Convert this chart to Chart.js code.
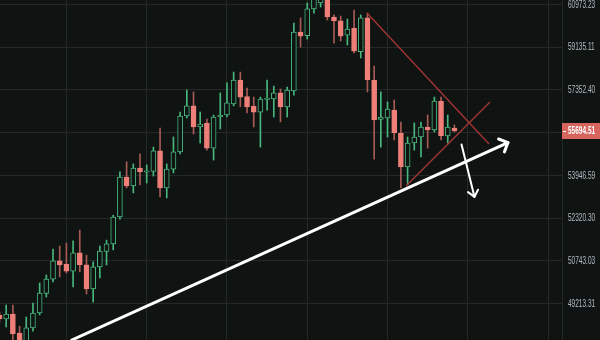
<!DOCTYPE html>
<html>
<head>
<meta charset="utf-8">
<script src="https://cdn.jsdelivr.net/npm/chart.js@4/dist/chart.umd.min.js"></script>
<style>
  html, body { margin: 0; padding: 0; background: #0f1312; }
  #wrap { width: 600px; height: 340px; position: relative; }
</style>
</head>
<body>
<div id="wrap"><canvas id="c"></canvas></div>
<script>
// 4h candles, one entry per bar
const opens  = [48810,48670,48840,48180,47670,48360,48880,49570,50080,50740,
                50620,50370,51030,50600,49730,50520,51080,51360,52360,53880,
                53540,54230,54070,54100,54900,53460,54190,54860,56290,56700,
                55850,56000,55010,56250,56330,56780,57760,57080,56680,56450,
                56960,56980,57230,56660,57310,59780,59630,60780,61040,61500,
                60430,60260,59650,59940,58950,60390,57760,56150,56210,56530,
                55610,54270,55210,55450,55850,55730,56900,55490,55810];
const highs  = [48910,49160,49160,48420,48740,49230,49940,50230,51170,51280,
                51390,51470,51870,50950,50700,51280,51500,52430,54080,54470,
                54390,54780,54350,55050,55810,54390,55450,56450,57350,57270,
                56450,56170,56330,57230,57640,58090,58090,57430,57060,57060,
                57760,57510,57390,57470,60170,60390,61040,61520,61700,61700,
                60520,60470,60340,60730,60520,60600,58340,57270,56860,56940,
                56050,55450,56010,56050,56330,57060,57060,56330,55930];
const lows   = [48560,48390,47770,47260,47430,48250,48810,49440,49980,50160,
                50300,49800,50340,49550,49260,50120,50590,51140,52280,53460,
                53270,53580,53650,53920,53120,53080,54040,54780,56210,55570,
                55210,54930,54540,55770,56250,56700,56660,56410,55850,55050,
                56530,56250,56050,56250,57140,59140,59480,60600,60860,60300,
                59310,59400,59230,58890,58680,57270,54580,55050,55450,55330,
                53460,53580,54930,54660,55010,55650,55330,55210,55650];
const closes = [48670,48840,48150,47530,48360,48880,49580,50080,50740,50590,
                50370,51030,50590,49730,50520,51100,51360,52360,53880,53540,
                54230,54080,54120,54900,53460,54190,54860,56290,56700,55850,
                55970,55010,56250,56330,56820,57760,57060,56660,56450,56980,
                57020,57230,56660,57350,59780,59610,60780,61350,61520,60430,
                60260,59610,59910,58970,60390,57760,56130,56250,56570,55610,
                54270,55210,55450,55850,55730,56900,55490,55850,55694.51];

// price axis levels (log spaced)
const priceTicks = [60973.23, 59135.11, 57352.40, 55623.50, 53946.59, 52320.30, 50743.03, 49213.31];
// vertical grid every 12 bars
const timeGrid = [10, 22, 34, 46, 58, 70, 82];

// drawn studies, in (bar index, price)
const supportX = [10.8, 76.0],  supportY = [47940, 55230];
const breakX   = [69.06, 71.0], breakY   = [55150, 53120];
const wedgeTopX = [54.93, 73.17], wedgeTopY = [60600, 55170];
const wedgeLowX = [60.76, 73.32], wedgeLowY = [53540, 56860];

const BG = '#0f1312';
const GRID = '#232928';
const UP = '#48b67d';
const DOWN = '#ef8079';
const DOWN_WICK = '#a85a55';
const WEDGE = '#a23434';
const AXIS_TEXT = '#b4bcc4';
const AXIS_FONT = '10px "Liberation Sans", Arial, sans-serif';
const SQUEEZE = 0.65;   // narrow axis digits

const up = closes.map((c, i) => c >= opens[i]);
const bodies = opens.map((o, i) => ({ x: i, y: [o, closes[i]] }));
const wicks = lows.map((l, i) => ({ x: i, y: [l, highs[i]] }));
const pts = (xs, ys) => xs.map((x, i) => ({ x, y: ys[i] }));
const lastClose = closes[closes.length - 1];

function narrowText(ctx, text, x, y) {
  ctx.save();
  ctx.translate(x, y);
  ctx.scale(SQUEEZE, 1);
  ctx.fillText(text, 0, 0);
  ctx.restore();
}

const overlays = {
  id: 'overlays',
  beforeDraw(chart) {
    const ctx = chart.ctx;
    ctx.save();
    ctx.fillStyle = BG;
    ctx.fillRect(0, 0, chart.width, chart.height);
    ctx.restore();
  },
  afterDatasetsDraw(chart) {
    const ctx = chart.ctx;
    chart.data.datasets.forEach((ds, di) => {
      if (!ds.arrowHead) return;
      const p = chart.getDatasetMeta(di).data;
      const a = p[p.length - 2], b = p[p.length - 1];
      const ang = Math.atan2(b.y - a.y, b.x - a.x);
      const len = ds.arrowHead.length, spread = ds.arrowHead.spread;
      ctx.save();
      ctx.strokeStyle = ds.borderColor;
      ctx.lineWidth = ds.borderWidth;
      ctx.lineCap = 'round';
      ctx.lineJoin = 'round';
      ctx.beginPath();
      ctx.moveTo(b.x - len * Math.cos(ang - spread), b.y - len * Math.sin(ang - spread));
      ctx.lineTo(b.x, b.y);
      ctx.lineTo(b.x - len * Math.cos(ang + spread), b.y - len * Math.sin(ang + spread));
      ctx.stroke();
      ctx.restore();
    });
  },
  afterDraw(chart) {
    const ctx = chart.ctx;
    const yScale = chart.scales.y;
    const left = chart.chartArea.right;
    // price axis labels
    ctx.save();
    ctx.font = AXIS_FONT;
    ctx.fillStyle = AXIS_TEXT;
    ctx.textBaseline = 'middle';
    ctx.textAlign = 'left';
    yScale.ticks.forEach(t => {
      narrowText(ctx, t.value.toFixed(2), left + 6, yScale.getPixelForValue(t.value) + 0.5);
    });
    // last price tag
    const y = Math.round(yScale.getPixelForValue(lastClose));
    ctx.fillStyle = '#d8645e';
    ctx.fillRect(left, y - 8, chart.width - left, 16);
    ctx.fillStyle = '#ffffff';
    ctx.fillRect(left + 1, y, 3, 1);
    ctx.font = 'bold ' + AXIS_FONT;
    narrowText(ctx, lastClose.toFixed(2), left + 6, y + 0.5);
    ctx.restore();
  }
};

new Chart(document.getElementById('c'), {
  type: 'bar',
  data: {
    datasets: [
      {
        label: 'wicks',
        data: wicks,
        order: 4,
        grouped: false,
        barThickness: 1,
        borderWidth: 0,
        backgroundColor: up.map(u => u ? UP : DOWN_WICK)
      },
      {
        label: 'bodies',
        data: bodies,
        order: 3,
        grouped: false,
        barThickness: 5,
        borderWidth: 1,
        borderSkipped: false,
        minBarLength: 1,
        borderColor: up.map(u => u ? UP : DOWN),
        backgroundColor: up.map(u => u ? BG : DOWN)
      },
      {
        type: 'line', label: 'wedge top', data: pts(wedgeTopX, wedgeTopY), order: 2,
        borderColor: WEDGE, borderWidth: 1.4, pointRadius: 0
      },
      {
        type: 'line', label: 'wedge low', data: pts(wedgeLowX, wedgeLowY), order: 2,
        borderColor: WEDGE, borderWidth: 1.4, pointRadius: 0
      },
      {
        type: 'line', label: 'support', data: pts(supportX, supportY), order: 1,
        borderColor: '#ffffff', borderWidth: 3, pointRadius: 0, borderCapStyle: 'round',
        arrowHead: { length: 10, spread: Math.PI / 4 }
      },
      {
        type: 'line', label: 'break', data: pts(breakX, breakY), order: 1,
        borderColor: '#ffffff', borderWidth: 2, pointRadius: 0, borderCapStyle: 'round',
        arrowHead: { length: 8, spread: Math.PI / 4.5 }
      }
    ]
  },
  options: {
    responsive: true,
    maintainAspectRatio: false,
    animation: false,
    devicePixelRatio: 1,
    layout: { padding: 0 },
    plugins: { legend: { display: false }, tooltip: { enabled: false } },
    scales: {
      x: {
        type: 'linear',
        offset: false,
        min: 0.075,
        max: 84.08,
        grid: { color: GRID, drawTicks: false, offset: false },
        border: { display: false },
        ticks: { display: false },
        afterBuildTicks: s => { s.ticks = timeGrid.map(v => ({ value: v })); },
        afterFit: s => { s.height = 0; }
      },
      y: {
        type: 'logarithmic',
        position: 'right',
        min: 47942,
        max: 61170,
        grid: { color: GRID, drawTicks: false },
        border: { display: true, color: GRID },
        ticks: { display: false },
        afterBuildTicks: s => { s.ticks = priceTicks.map(v => ({ value: v })); },
        afterFit: s => { s.width = 38; }
      }
    }
  },
  plugins: [overlays]
});
</script>
</body>
</html>
